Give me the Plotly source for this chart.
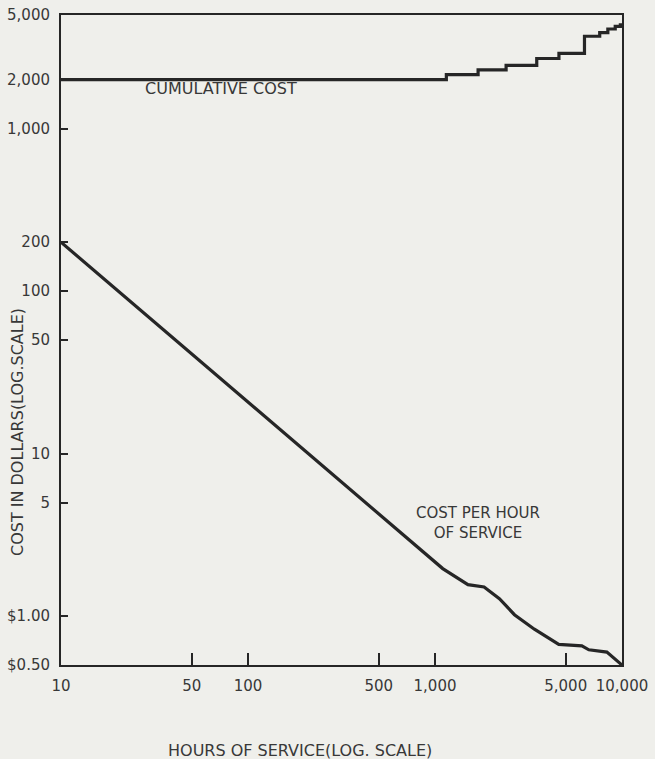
import plotly.graph_objects as go
import math

# Cumulative cost (step line)
cum_hours = [10, 1150, 1700, 2400, 3500, 4600, 6300, 7600, 8400, 9200, 9800, 10000]
cum_cost = [2000, 2150, 2300, 2450, 2700, 2900, 3700, 3900, 4100, 4250, 4350, 4350]

# Cost per hour of service
rate_hours = [10, 1100, 1500, 1830, 2210, 2660, 3400, 4590, 6100, 6650, 8300, 10000]
rate_cost = [200, 1.96, 1.56, 1.51, 1.28, 1.02, 0.83, 0.67, 0.655, 0.62, 0.60, 0.5]

x_tickvals = [10, 50, 100, 500, 1000, 5000, 10000]
x_ticktext = ["10", "50", "100", "500", "1,000", "5,000", "10,000"]
y_tickvals = [5000, 2000, 1000, 200, 100, 50, 10, 5, 1, 0.5]
y_ticktext = ["5,000", "2,000", "1,000", "200", "100", "50", "10", "5", "$1.00", "$0.50"]

ink = "#262626"
txt = "#383838"
paper = "#efefeb"
font_family = "DejaVu Sans, Liberation Sans, sans-serif"

W, H = 655, 759
L, R, T, B = 61, 33, 15, 94
pw, ph = W - L - R, H - T - B

def px(x):
    return (x - L) / pw

def py(y):
    return 1 - (y - T) / ph

fig = go.Figure()
fig.add_trace(go.Scatter(x=cum_hours, y=cum_cost, mode="lines", line_shape="hv",
                         line=dict(color=ink, width=3.2), showlegend=False, cliponaxis=False))
fig.add_trace(go.Scatter(x=rate_hours, y=rate_cost, mode="lines",
                         line=dict(color=ink, width=3.2), showlegend=False, cliponaxis=False))

fig.update_xaxes(type="log", range=[1, 4], tickvals=x_tickvals, ticktext=x_ticktext,
                 ticks="inside", ticklen=12, tickwidth=2, tickcolor=ink,
                 showline=True, linecolor=ink, linewidth=2, mirror=True,
                 showgrid=False, zeroline=False, automargin=False,
                 ticklabelstandoff=6,
                 tickfont=dict(family=font_family, size=15, color=txt))
fig.update_yaxes(type="log", range=[math.log10(0.5), math.log10(5000)],
                 tickvals=y_tickvals, ticktext=y_ticktext,
                 ticks="inside", ticklen=7, tickwidth=2, tickcolor=ink,
                 showline=True, linecolor=ink, linewidth=2, mirror=True,
                 showgrid=False, zeroline=False, automargin=False,
                 ticklabelstandoff=6,
                 tickfont=dict(family=font_family, size=15, color=txt))

def label(text, x, y, size, angle=0):
    return dict(text=text, xref="paper", yref="paper", x=px(x), y=py(y),
                xanchor="center", yanchor="middle", textangle=angle, align="center",
                showarrow=False, font=dict(size=size, color=txt))

fig.update_layout(
    width=W, height=H,
    margin=dict(l=L, r=R, t=T, b=B),
    paper_bgcolor=paper, plot_bgcolor=paper,
    font=dict(family=font_family, color=txt),
    annotations=[
        label("CUMULATIVE COST", 221, 89, 16),
        label("COST PER HOUR<br>OF SERVICE", 478, 523, 15),
        label("HOURS OF SERVICE(LOG. SCALE)", 300, 750, 16),
        label("COST IN DOLLARS(LOG.SCALE)", 17, 432, 16, -90),
    ],
)

fig.write_html("out.html", config={"displayModeBar": False},
               post_script="document.body.style.margin='0';document.body.style.background='#efefeb';")
